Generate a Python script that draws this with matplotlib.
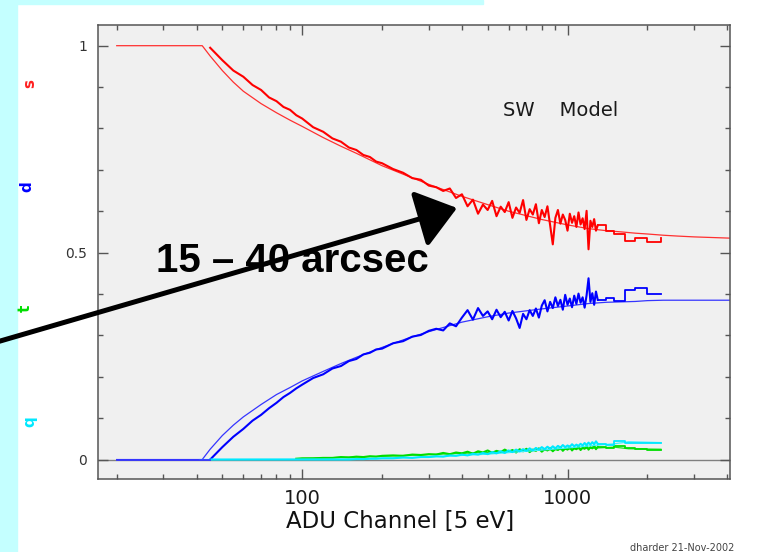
import numpy as np
import matplotlib
matplotlib.use('Agg')
import matplotlib.pyplot as plt
from matplotlib.patches import Rectangle
from matplotlib.ticker import LogLocator, NullFormatter, MultipleLocator

# channels of the measured curves (ADU)
x_chan = [45, 50, 55, 60, 65, 70, 75, 80, 85, 90, 95, 100,
          110, 120, 130, 140, 150, 160, 170, 180, 190, 200,
          220, 240, 260, 280, 300,
          320, 340, 360, 380, 400, 420, 440, 460, 480, 500,
          520, 540, 560, 580, 600, 620, 640, 660, 680, 700,
          720, 740, 760, 780, 800, 820, 840, 860, 880, 900,
          920, 940, 960, 980, 1000, 1020, 1040, 1060, 1080, 1100,
          1120, 1140, 1160, 1180, 1200, 1220, 1240, 1260, 1280, 1300,
          1400, 1500, 1650, 1800, 2000, 2250]

# measured pattern fractions
s_data = [0.995, 0.965, 0.94, 0.925, 0.905, 0.893, 0.875, 0.866, 0.852, 0.845, 0.832, 0.824,
          0.803, 0.792, 0.776, 0.768, 0.754, 0.748, 0.736, 0.731, 0.72, 0.716,
          0.702, 0.693, 0.68, 0.676, 0.662,
          0.658, 0.649, 0.655, 0.632, 0.641, 0.612, 0.628, 0.594, 0.616, 0.603,
          0.625, 0.588, 0.611, 0.598, 0.622, 0.584, 0.609, 0.596, 0.627, 0.579,
          0.605, 0.592, 0.617, 0.571, 0.603, 0.586, 0.612, 0.566, 0.52, 0.584,
          0.603, 0.57, 0.592, 0.579, 0.553, 0.594, 0.572, 0.588, 0.562, 0.597,
          0.568, 0.583, 0.557, 0.601, 0.508, 0.577, 0.562, 0.581, 0.553, 0.566,
          0.552, 0.546, 0.527, 0.536, 0.525, 0.535]
d_data = [0.0, 0.03, 0.055, 0.074, 0.094, 0.108, 0.124, 0.137, 0.151, 0.161, 0.172, 0.181,
          0.197, 0.206, 0.22, 0.226, 0.238, 0.243, 0.254, 0.258, 0.266, 0.268,
          0.281, 0.286, 0.297, 0.301, 0.311,
          0.316, 0.312, 0.329, 0.322, 0.343, 0.361, 0.338, 0.366, 0.347, 0.358,
          0.339, 0.362, 0.344, 0.357, 0.336, 0.359, 0.341, 0.318, 0.352, 0.339,
          0.361, 0.347, 0.365, 0.343, 0.372, 0.385, 0.358, 0.381, 0.366, 0.392,
          0.371, 0.386, 0.362, 0.398, 0.374, 0.389, 0.368, 0.396, 0.376, 0.401,
          0.379, 0.392, 0.367, 0.397, 0.438, 0.381, 0.402, 0.374, 0.406, 0.386,
          0.39, 0.384, 0.41, 0.414, 0.401, 0.401]
t_data = [np.nan] * 10 + [
          0.002, 0.003,
          0.003, 0.004, 0.004, 0.006, 0.005, 0.007, 0.006, 0.008, 0.007, 0.009,
          0.010, 0.009, 0.012, 0.011, 0.013,
          0.012, 0.016, 0.013, 0.017, 0.015, 0.019, 0.014, 0.02, 0.017, 0.022,
          0.016, 0.021, 0.018, 0.024, 0.019, 0.023, 0.017, 0.025, 0.02, 0.026,
          0.018, 0.024, 0.021, 0.027, 0.019, 0.025, 0.022, 0.028, 0.02, 0.026,
          0.023, 0.03, 0.021, 0.027, 0.024, 0.031, 0.022, 0.028, 0.025, 0.032,
          0.023, 0.029, 0.026, 0.033, 0.024, 0.03, 0.027, 0.034, 0.025, 0.031,
          0.028, 0.032, 0.027, 0.025, 0.022, 0.022]
q_data = [0.0] * 17 + [
          0.001, 0.001, 0.002, 0.002, 0.003,
          0.003, 0.005, 0.004, 0.006, 0.006,
          0.008, 0.007, 0.01, 0.009, 0.012, 0.01, 0.014, 0.012, 0.016, 0.013,
          0.018, 0.015, 0.02, 0.016, 0.022, 0.018, 0.024, 0.02, 0.025, 0.021,
          0.027, 0.022, 0.028, 0.024, 0.03, 0.025, 0.031, 0.026, 0.032, 0.027,
          0.033, 0.029, 0.035, 0.03, 0.034, 0.031, 0.037, 0.032, 0.036, 0.033,
          0.038, 0.034, 0.04, 0.035, 0.041, 0.036, 0.042, 0.037, 0.044, 0.038,
          0.036, 0.045, 0.04, 0.04, 0.04, 0.04]

# SW model curves
x_model = [20, 42, 45, 50, 55, 60, 70, 80, 90, 100, 120, 140, 160, 200, 250,
           300, 400, 500, 600, 800, 1000, 1200, 1400, 1600, 1800, 2000, 2300, 2600, 3000, 4096]
s_model = [1, 1, 0.975, 0.94, 0.912, 0.89, 0.86, 0.838, 0.82, 0.805, 0.778, 0.757, 0.74, 0.71, 0.685,
           0.665, 0.636, 0.616, 0.60, 0.58, 0.567, 0.558, 0.553, 0.55, 0.547, 0.545, 0.542, 0.54, 0.538, 0.535]
d_model = [0, 0, 0.025, 0.058, 0.083, 0.103, 0.133, 0.157, 0.174, 0.19, 0.213, 0.232, 0.247, 0.271, 0.293,
           0.309, 0.332, 0.345, 0.354, 0.364, 0.371, 0.377, 0.38, 0.381, 0.382, 0.384, 0.385, 0.385, 0.385, 0.385]
x_model_t = [95, 200, 400, 700, 1000, 1300, 1500, 1700, 2250]
t_model = [0.002, 0.008, 0.015, 0.021, 0.025, 0.028, 0.03, 0.026, 0.025]
x_model_q = [41, 150, 300, 500, 700, 1000, 1300, 1500, 1700, 2250]
q_model = [0, 0.001, 0.006, 0.013, 0.02, 0.028, 0.035, 0.038, 0.043, 0.041]

W, H = 760, 552
N_FINE = 77  # channels up to 1300 are narrow, above that the bins are wide


def fx(px):
    return px / W


def fy(py):
    return 1 - py / H


def plot_data(ax, y, color, z):
    ax.plot(x_chan[:N_FINE], y[:N_FINE], color=color, lw=1.5, zorder=z)
    ax.plot(x_chan[N_FINE - 1:], y[N_FINE - 1:], color=color, lw=1.3,
            drawstyle='steps-post', zorder=z)


fig = plt.figure(figsize=(W / 100, H / 100), dpi=100, facecolor='white')

# slide background strips
fig.patches.append(Rectangle((0, 0), fx(17), 1, transform=fig.transFigure,
                             color='#c4ffff', zorder=-5))
fig.patches.append(Rectangle((0, fy(3.5)), fx(483), 1 - fy(3.5), transform=fig.transFigure,
                             color='#c4ffff', zorder=-5))

ax = fig.add_axes([fx(98), fy(479), fx(632), 454 / H])
ax.set_facecolor('#f0f0f0')
ax.set_xscale('log')
ax.set_xlim(17, 4096)
ax.set_ylim(-0.047, 1.05)

ax.axhline(0, color='#808080', lw=1, zorder=1)

ax.plot(x_model, s_model, color='#ff3030', lw=0.9, zorder=2)
ax.plot(x_model, d_model, color='#3535ff', lw=0.9, zorder=2)
ax.plot(x_model_t, t_model, color='#20e020', lw=0.9, zorder=2)
plot_data(ax, s_data, '#ff0000', 3)
plot_data(ax, d_data, '#0000ff', 3)
plot_data(ax, t_data, '#00dd00', 3)
ax.plot(x_model_q, q_model, color='#40f0ff', lw=0.9, zorder=4)
plot_data(ax, q_data, '#00e8ff', 4)
ax.plot([20, 45], [0, 0], color='#3535ff', lw=1.3, zorder=4)

for sp in ax.spines.values():
    sp.set_color('#555555')
    sp.set_linewidth(1.1)

ax.set_xticks([100, 1000])
ax.set_xticklabels(['100', '1000'])
ax.xaxis.set_minor_locator(LogLocator(base=10, subs=np.arange(2, 10)))
ax.xaxis.set_minor_formatter(NullFormatter())
ax.set_yticks([0, 0.5, 1])
ax.set_yticklabels(['0', '0.5', '1'])
ax.yaxis.set_minor_locator(MultipleLocator(0.1))
ax.tick_params(which='both', direction='in', top=True, right=True, color='#555555')
ax.tick_params(which='major', length=7, width=1)
ax.tick_params(which='minor', length=3.5, width=1)
ax.tick_params(axis='x', labelsize=14, pad=7, labelcolor='#1a1a1a')
ax.tick_params(axis='y', labelsize=10, pad=8, labelcolor='#333333')

ax.set_xlabel('ADU Channel [5 eV]', fontsize=16.5, color='#111111')
ax.xaxis.set_label_coords((400 - 98) / 632, -(528 - 479) / 454)
ax.xaxis.label.set_va('baseline')

fig.text(fx(503), fy(110), 'SW    Model', fontsize=14, color='#1a1a1a', ha='left', va='center')

# coloured axis letters of the original plot
for lab, col, (lx, ly) in [('s', '#ff2020', (30, 83)), ('d', '#0000ff', (27, 187)),
                           ('t', '#00dd00', (25, 308)), ('q', '#00e8ff', (30, 422))]:
    fig.text(fx(lx), fy(ly), lab, color=col, rotation=90, fontsize=11, weight='bold',
             ha='center', va='center')

fig.text(fx(292), fy(272), '15 \u2013 40 arcsec', fontsize=29, weight='bold',
         family='Liberation Sans', ha='center', va='baseline', color='black', zorder=5)

ax.annotate('', xy=(457, H - 208), xytext=(-10, H - 344), xycoords='figure pixels',
            textcoords='figure pixels', annotation_clip=False,
            arrowprops=dict(arrowstyle='-|>,head_length=1.2,head_width=0.9', lw=3.6,
                            color='black', mutation_scale=20, shrinkA=0, shrinkB=0))

fig.text(fx(630), fy(548), 'dharder 21-Nov-2002', fontsize=7, color='#444444',
         ha='left', va='center')

fig.savefig('out.png', dpi=100, facecolor='white')
